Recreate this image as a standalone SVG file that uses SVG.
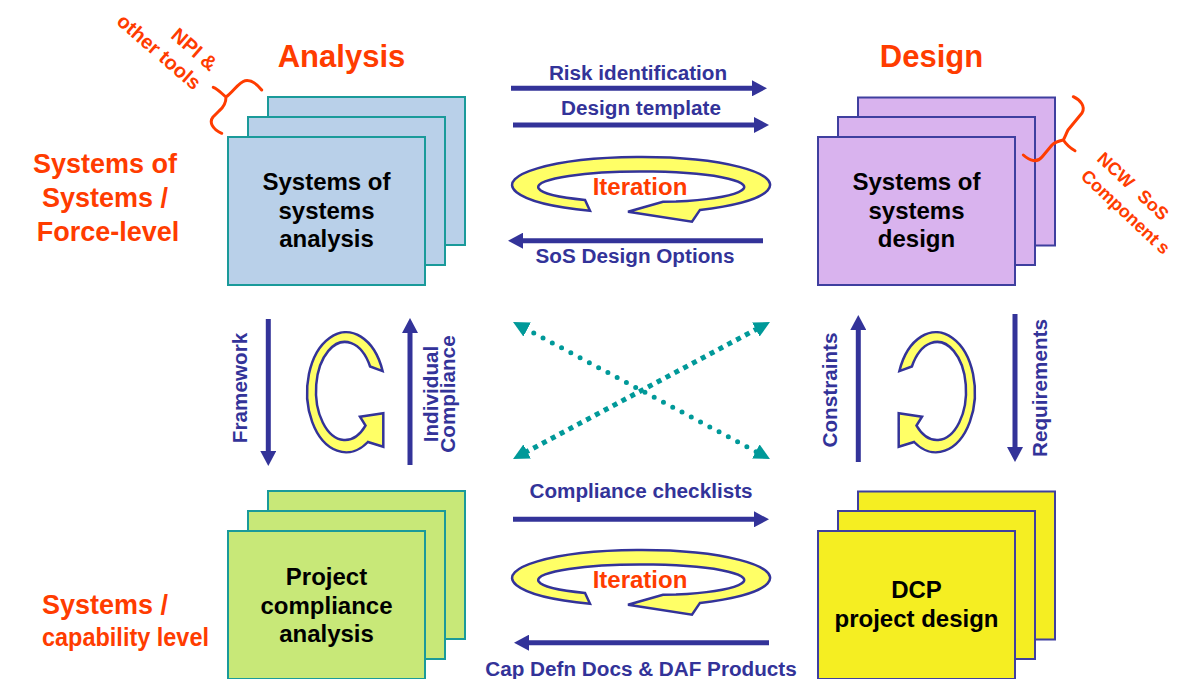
<svg xmlns="http://www.w3.org/2000/svg" width="1177" height="679" viewBox="0 0 1177 679">
<style>
text { font-family: "Liberation Sans", Arial, sans-serif; font-weight: bold; }
.head { font-size: 31px; fill: #FF3C00; text-anchor: middle; }
.side { font-size: 27px; fill: #FF3C00; }
.note { font-size: 20px; fill: #FF3C00; }
.note2 { font-size: 18px; fill: #FF3C00; }
.bt { font-size: 24px; fill: #000; text-anchor: middle; }
.lbl { font-size: 20.7px; fill: #333399; text-anchor: middle; }
.iter { font-size: 24px; fill: #FF3C00; text-anchor: middle; }
.arrow { stroke: #333399; stroke-width: 5; fill: none; marker-end: url(#ah); }
.dot1 { stroke: #009999; stroke-width: 5; stroke-dasharray: 0 10.5; stroke-linecap: round; fill: none; marker-start: url(#th); marker-end: url(#th); }
.dot2 { stroke: #009999; stroke-width: 5; stroke-dasharray: 5 5; fill: none; marker-start: url(#th); marker-end: url(#th); }
.ring { fill: #FFFF66; stroke: #333399; stroke-width: 2.5; stroke-linejoin: miter; }
.brace { fill: none; stroke: #FF3C00; stroke-width: 3; stroke-linecap: round; stroke-linejoin: round; }
.blue rect { fill: #B9D0E9; stroke: #1A9A9A; stroke-width: 2; }
.purple rect { fill: #D9B3EE; stroke: #3F3F9F; stroke-width: 2; }
.green rect { fill: #C8E878; stroke: #1A9A9A; stroke-width: 2; }
.yellow rect { fill: #F5EE22; stroke: #3F3F9F; stroke-width: 2; }
</style>
<defs>
<marker id="ah" markerUnits="userSpaceOnUse" markerWidth="15" markerHeight="16" viewBox="0 0 15 16" refX="3" refY="8" orient="auto"><path d="M0,0 L15,8 L0,16 z" fill="#333399" stroke="none"/></marker>
<marker id="th" markerUnits="userSpaceOnUse" markerWidth="16" markerHeight="16" viewBox="0 0 16 16" refX="3" refY="8" orient="auto-start-reverse"><path d="M0,0 L16,8 L0,16 z" fill="#009999" stroke="none"/></marker>
<path id="hring" d="M590,210.7 A129 28 0 1 1 700,209.9 L692,221.7 L628,211.7 L663,201.7 L676,201.6 A103 15.5 0 1 0 585,200 Z"/>
<path id="vring" d="M382.6,371.1 A39 60 0 1 0 367.9,442 L383.3,446.7 L383.3,413.3 L360,416.7 L365.5,425.6 A29 49 0 1 1 370.1,366.5 Z"/>
</defs>

<g id="headings">
<text class="head" x="341.5" y="67">Analysis</text>
<text class="head" x="931.5" y="67">Design</text>
</g>

<g id="row-labels">
<text class="side" text-anchor="middle" x="105" y="173">Systems of</text>
<text class="side" text-anchor="middle" x="105" y="207">Systems /</text>
<text class="side" text-anchor="middle" x="108" y="241">Force-level</text>
<text class="side" x="42" y="614">Systems /</text>
<text class="side" x="42" y="646" style="font-size:26px" textLength="167" lengthAdjust="spacingAndGlyphs">capability level</text>
</g>

<g id="sos-analysis" class="blue">
<rect x="268" y="97" width="197" height="148"/>
<rect x="248" y="117" width="197" height="148"/>
<rect x="228" y="137" width="197" height="148"/>
<text class="bt" x="326.5" y="190">Systems of</text>
<text class="bt" x="326.5" y="218.5">systems</text>
<text class="bt" x="326.5" y="247">analysis</text>
</g>

<g id="sos-design" class="purple">
<rect x="858" y="97.5" width="197" height="148"/>
<rect x="838" y="117" width="197" height="148"/>
<rect x="818" y="137" width="197" height="148"/>
<text class="bt" x="916.5" y="190">Systems of</text>
<text class="bt" x="916.5" y="218.5">systems</text>
<text class="bt" x="916.5" y="247">design</text>
</g>

<g id="project-compliance" class="green">
<rect x="268" y="491" width="197" height="148"/>
<rect x="248" y="511" width="197" height="148"/>
<rect x="228" y="531" width="197" height="148"/>
<text class="bt" x="326.5" y="585">Project</text>
<text class="bt" x="326.5" y="613.5">compliance</text>
<text class="bt" x="326.5" y="642">analysis</text>
</g>

<g id="dcp-design" class="yellow">
<rect x="858" y="491.5" width="197" height="148"/>
<rect x="838" y="511" width="197" height="148"/>
<rect x="818" y="531" width="197" height="148"/>
<text class="bt" x="916.5" y="598">DCP</text>
<text class="bt" x="916.5" y="626.5">project design</text>
</g>

<g id="npi-note">
<path class="brace" d="M261.7,90 C257,84 251,79.5 245,80.7 C239,82 233,92 226,97 M213.3,87.3 C218,89 222,94 226,97 M226,97 C226,103 224,107 219,111 L213,117 C209,122 212,129 221.7,133.3"/>
<g transform="translate(210,72) rotate(41)">
<text class="note" text-anchor="end" x="0" y="0">NPI &amp;</text>
<text class="note" text-anchor="end" x="0" y="25">other tools</text>
</g>
</g>

<g id="ncw-note">
<path class="brace" d="M1073.3,96.7 C1080,100 1086,106 1082,113 L1068,130 C1066,134 1065,137 1063.3,140 M1063.3,140 C1066,144 1070,148 1075,150.7 M1063.3,140 C1059,141 1055,142 1052,145 L1042,157 C1037,163 1030,161 1023.3,155"/>
<g transform="translate(1096,160) rotate(43)">
<text class="note2" x="0" y="0" word-spacing="7">NCW SoS</text>
<text class="note2" x="0" y="24">Component<tspan dx="4">s</tspan></text>
</g>
</g>

<g id="iteration-top">
<use href="#hring" class="ring"/>
<text class="iter" x="640" y="195">Iteration</text>
</g>
<g id="iteration-bottom">
<use href="#hring" class="ring" transform="translate(0,393)"/>
<text class="iter" x="640" y="588">Iteration</text>
</g>
<g id="cycle-left">
<use href="#vring" class="ring"/>
</g>
<g id="cycle-right">
<use href="#vring" class="ring" transform="matrix(-1 0 0 1 1282 0)"/>
</g>

<g id="connectors">
<path class="arrow" d="M511,88.3 H755"/>
<path class="arrow" d="M513,125 H757"/>
<path class="arrow" d="M763,240.7 H520"/>
<path class="arrow" d="M513,519.3 H757"/>
<path class="arrow" d="M769,642.7 H526"/>
<path class="arrow" d="M268.3,319 V454"/>
<path class="arrow" d="M410,465 V330"/>
<path class="arrow" d="M858.3,462 V327"/>
<path class="arrow" d="M1015,314 V450"/>
<path class="dot1" d="M524.5,328.1 L758.5,452.9"/>
<path class="dot2" d="M524.5,452.9 L758.5,328.1"/>
</g>

<g id="connector-labels">
<text class="lbl" x="638" y="80">Risk identification</text>
<text class="lbl" x="641" y="115">Design template</text>
<text class="lbl" x="635" y="263">SoS Design Options</text>
<text class="lbl" x="641" y="498">Compliance checklists</text>
<text class="lbl" x="641" y="676">Cap Defn Docs &amp; DAF Products</text>
<text class="lbl" transform="translate(246.5,388) rotate(-90)">Framework</text>
<text class="lbl" transform="translate(438,394) rotate(-90)">Individual</text>
<text class="lbl" transform="translate(455,394) rotate(-90)">Compliance</text>
<text class="lbl" transform="translate(836.5,390) rotate(-90)">Constraints</text>
<text class="lbl" transform="translate(1047,388) rotate(-90)">Requirements</text>
</g>
</svg>
